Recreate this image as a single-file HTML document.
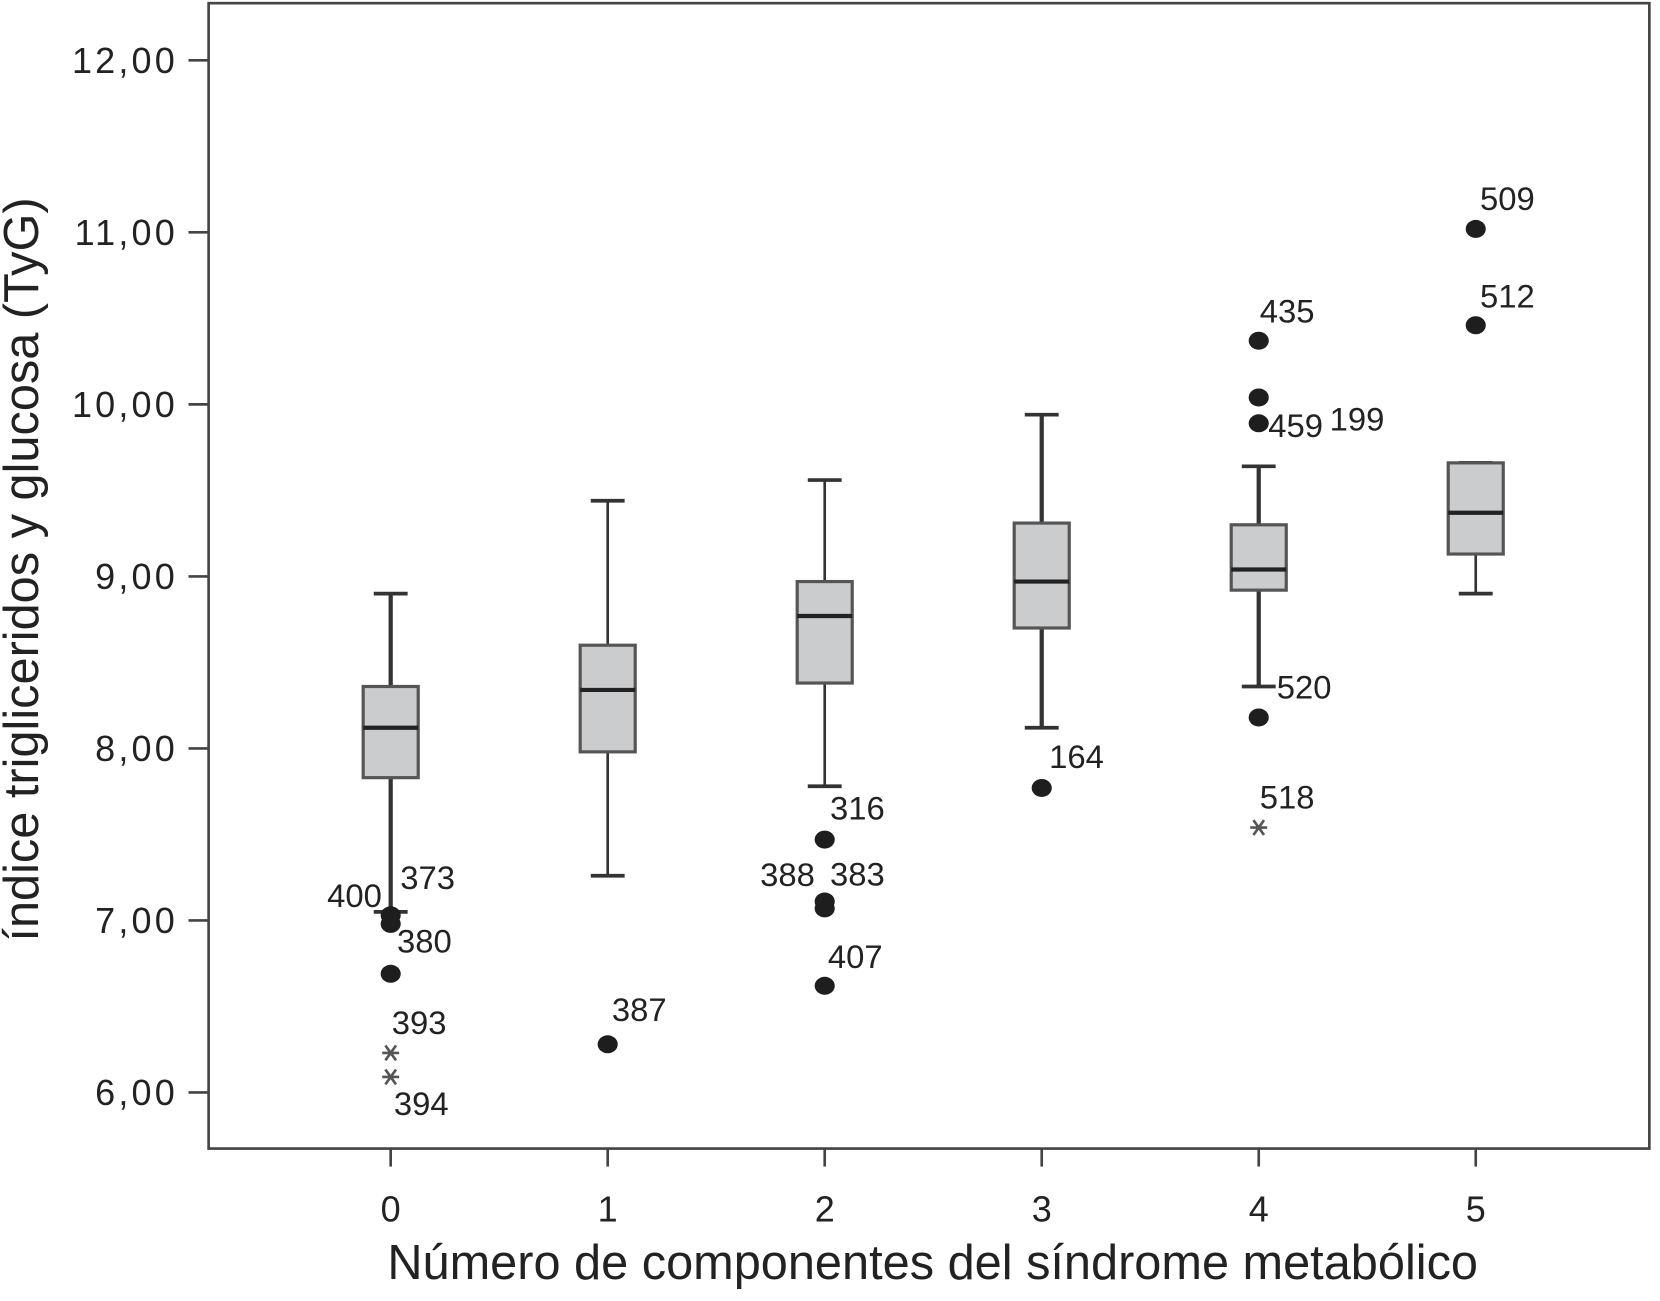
<!DOCTYPE html>
<html><head><meta charset="utf-8"><style>
html,body{margin:0;padding:0;background:#fff;}
svg{display:block;font-family:"Liberation Sans",sans-serif;}
</style></head><body>
<svg id="chart" width="1660" height="1301" viewBox="0 0 1568 1229" xmlns="http://www.w3.org/2000/svg">
<rect x="197" y="3" width="1361" height="1082" fill="#fff" stroke="#444" stroke-width="2.5"/>
<g id="axes"></g>
<g id="boxes"></g>
<g id="outliers"></g>
<text x="881" y="1208" font-size="46" text-anchor="middle" fill="#222">Número de componentes del síndrome metabólico</text>
<text transform="translate(36,538) rotate(-90)" x="0" y="0" font-size="46" text-anchor="middle" fill="#222">índice trigliceridos y glucosa (TyG)</text>
</svg>
<script>
const categories = ["0","1","2","3","4","5"];
const whiskerHigh = [8.90, 9.44, 9.56, 9.94, 9.64, 9.66];
const q3 = [8.36, 8.60, 8.97, 9.31, 9.30, 9.66];
const medians = [8.12, 8.34, 8.77, 8.97, 9.04, 9.37];
const q1 = [7.83, 7.98, 8.38, 8.70, 8.92, 9.13];
const whiskerLow = [7.05, 7.26, 7.78, 8.12, 8.36, 8.90];
const yTicks = [6, 7, 8, 9, 10, 11, 12];
const yTickLabels = ["6,00","7,00","8,00","9,00","10,00","11,00","12,00"];
const outlierCat = [0,0,0,0,0,1,2,2,2,2,3,4,4,4,4,4,5,5];
const outlierVal = [7.03,6.98,6.69,6.23,6.09,6.28,7.47,7.07,7.11,6.62,7.77,10.37,10.04,9.89,8.18,7.54,11.02,10.46];
const outlierId = ["400","373","380","393","394","387","316","388","383","407","164","435","199","459","520","518","509","512"];
const outlierExtreme = [false,false,false,true,true,false,false,false,false,false,false,false,false,false,false,true,false,false];
const labelDx = [-60,9,6,1,3,4,5,-61,5,3,7,1,67,9,17,1,4,4];
const labelDy = [-8,-33,-20,-18,36,-22,-19,-21,-15,-17,-19,-17,31,13,-18,-18,-18,-17];
const thick = [true,false,false,true,true,false];

const NS="http://www.w3.org/2000/svg";
function xS(i){return 369+205*i;}
function yS(v){return 57+(12-v)*162.5;}
function mk(tag,attrs,parent){const e=document.createElementNS(NS,tag);for(const k in attrs)e.setAttribute(k,attrs[k]);parent.appendChild(e);return e;}
const axes=document.getElementById('axes'),boxes=document.getElementById('boxes'),outs=document.getElementById('outliers');
yTicks.forEach((v,i)=>{
  const t=mk('line',{x1:178,x2:197,y1:yS(v),y2:yS(v),stroke:'#444','stroke-width':2.5},axes);
  
  
  const l=mk('text',{x:168,y:yS(v)+12,'font-size':34,'letter-spacing':3,'text-anchor':'end',fill:'#222'},axes);
  l.textContent=yTickLabels[i];
  
  
});
categories.forEach((c,i)=>{
  const t=mk('line',{x1:xS(i),x2:xS(i),y1:1085,y2:1102,stroke:'#444','stroke-width':2.5},axes);
  
  
  const l=mk('text',{x:xS(i),y:1154,'font-size':34,'text-anchor':'middle',fill:'#222'},axes);
  l.textContent=c;
  
  
  const g=mk('g',{},boxes);
  
  
  const x=xS(i),sw=thick[i]?4:2.5,hw=26,cw=16;
  mk('line',{x1:x,x2:x,y1:yS(whiskerHigh[i]),y2:yS(q3[i]),stroke:'#333','stroke-width':sw},g);
  mk('line',{x1:x,x2:x,y1:yS(q1[i]),y2:yS(whiskerLow[i]),stroke:'#333','stroke-width':sw},g);
  mk('line',{x1:x-cw,x2:x+cw,y1:yS(whiskerHigh[i]),y2:yS(whiskerHigh[i]),stroke:'#333','stroke-width':3.5},g);
  mk('line',{x1:x-cw,x2:x+cw,y1:yS(whiskerLow[i]),y2:yS(whiskerLow[i]),stroke:'#333','stroke-width':3.5},g);
  const b=mk('rect',{x:x-hw,y:yS(q3[i]),width:hw*2,height:yS(q1[i])-yS(q3[i]),fill:'#cbcccd',stroke:'#555','stroke-width':3},g);
  
  
  const m=mk('line',{x1:x-hw,x2:x+hw,y1:yS(medians[i]),y2:yS(medians[i]),stroke:'#222','stroke-width':4},g);
  
  
});
outlierVal.forEach((v,i)=>{
  const x=xS(outlierCat[i]),y=yS(v);
  if(outlierExtreme[i]){
    const s=mk('path',{d:`M${x-8},${y}H${x+8}M${x-5},${y-7}L${x+5},${y+7}M${x+5},${y-7}L${x-5},${y+7}`,stroke:'#555','stroke-width':2.5,fill:'none'},outs);
    
    
  } else {
    const d=mk('ellipse',{cx:x,cy:y,rx:9.5,ry:8.5,fill:'#1e1e1e'},outs);
    
    
  }
  const l=mk('text',{x:x+labelDx[i],y:y+labelDy[i],'font-size':31,fill:'#222'},outs);
  l.textContent=outlierId[i];
  
  
});
</script>
</body></html>
